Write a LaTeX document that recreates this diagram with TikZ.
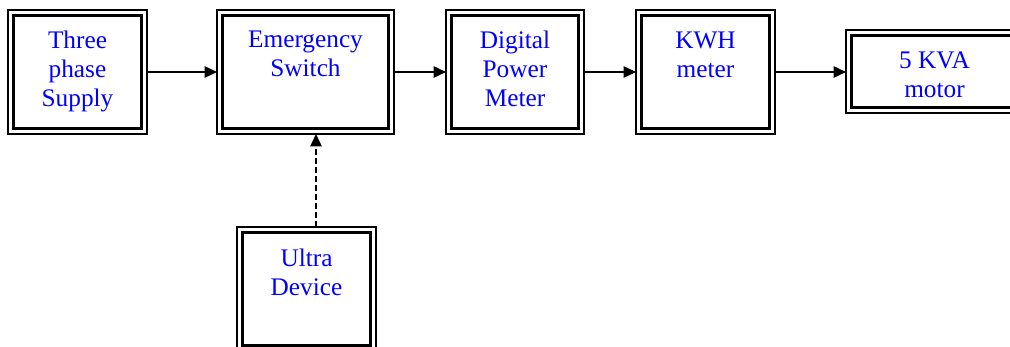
\documentclass[tikz,border=0pt]{standalone}
\usepackage{fontspec}
\setmainfont{Liberation Serif}
\usetikzlibrary{arrows.meta,calc}
\definecolor{txtblue}{RGB}{0,0,255}
\tikzset{
  x=1pt,y=1pt,
  blk/.style={draw, line width=2.6pt, outer sep=5.5pt, inner sep=0pt, fill=white},
  txt/.style={text=txtblue, align=center, anchor=north, inner sep=0pt,
              font=\fontsize{25.3}{29}\selectfont},
  arr/.style={line width=1.4pt, -{Triangle[length=12.5pt,width=11.5pt]}},
  darr/.style={arr, dash pattern=on 5.5pt off 3.5pt},
}
\newcommand{\outerbox}[1]{%
  \draw[line width=1.4pt] (#1.north west) rectangle (#1.south east);}
\begin{document}
\begin{tikzpicture}
\clip (0,0) rectangle (1010,-347);
\fill[white] (0,0) rectangle (1010,-347);
% boxes (inner rectangles)
\node[blk, minimum width=128pt, minimum height=113pt] (b1) at (77.5,-72) {};
\node[blk, minimum width=166pt, minimum height=113pt] (b2) at (305.5,-72) {};
\node[blk, minimum width=127pt, minimum height=113pt] (b3) at (515,-72) {};
\node[blk, minimum width=128pt, minimum height=113pt] (b4) at (705.5,-72) {};
\node[blk, minimum width=166pt, minimum height=72pt] (b5) at (934.5,-71.5) {};
\node[blk, minimum width=128pt, minimum height=113pt] (b6) at (306.5,-289) {};
\outerbox{b1}\outerbox{b2}\outerbox{b3}\outerbox{b4}\outerbox{b5}\outerbox{b6}
% texts
\node[txt] (t1) at (77.5,-30.5) {Three\\phase\\Supply};
\node[txt] (t2) at (305.5,-30.5) {Emergency\\Switch};
\node[txt] (t3) at (515,-30.5) {Digital\\Power\\Meter};
\node[txt] (t4) at (705.5,-31.5) {KWH\\meter};
\node[txt] (t5) at (934.5,-51.5) {5 KVA\\motor};
\node[txt] (t6) at (306.5,-248.5) {Ultra\\Device};
% connectors
\draw[arr] (b1.east) -- (b2.west);
\draw[arr] (b2.east) -- (b3.west);
\draw[arr] (b3.east) -- (b4.west);
\draw[arr] (b4.east) -- (b4.east -| b5.west);
\coordinate (d0) at ([xshift=9.5pt]b6.north);
\draw[darr] (d0) -- (d0 |- b2.south);
\end{tikzpicture}
\end{document}
